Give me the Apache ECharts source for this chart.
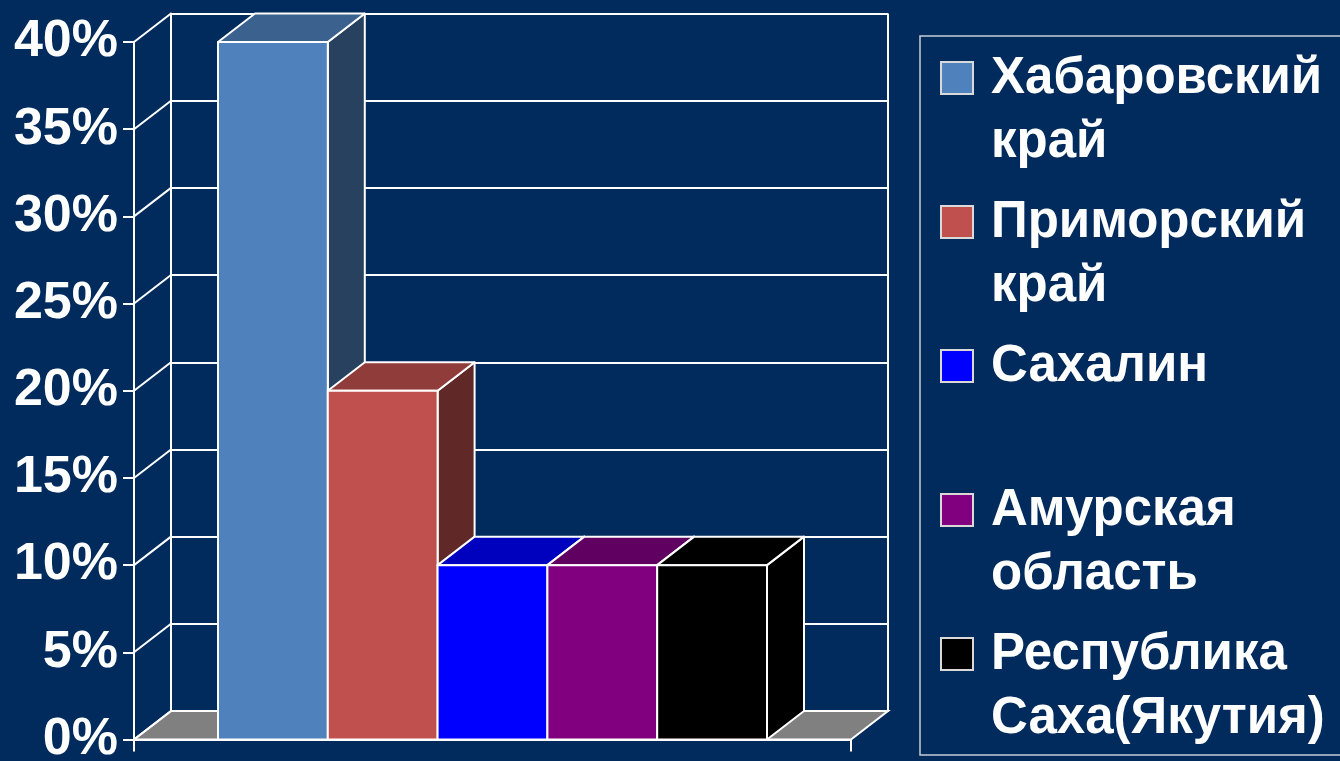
<!DOCTYPE html>
<html><head><meta charset="utf-8">
<script src="https://cdn.jsdelivr.net/npm/echarts@6/dist/echarts.min.js"></script>
<style>html,body{margin:0;padding:0;background:#002b5c;overflow:hidden}#c{width:1340px;height:761px}</style>
</head><body><div id="c"></div>
<script>
// ---- data ----
const categories = [''];
const regions = ['Хабаровский край', 'Приморский край', 'Сахалин', 'Амурская область', 'Республика Саха(Якутия)'];
const shares = [40, 20, 10, 10, 10];
const regionColors = ['#4f81bd', '#c0504d', '#0000ff', '#800080', '#000000'];
const yTicks = [0, 5, 10, 15, 20, 25, 30, 35, 40];

// ---- layout / style constants ----
const BG = '#002b5c';
const LINE = '#ffffff';
const DX = 37, DY = 28.5;          // depth offset of the 3D box
const GROUP_RATIO = 0.7657;        // share of the category band used by the bars
const FONT = "'Liberation Sans', Arial, sans-serif";

function shade(hex, f) {
  const n = parseInt(hex.slice(1), 16);
  const r = Math.round(((n >> 16) & 255) * f), g = Math.round(((n >> 8) & 255) * f), b = Math.round((n & 255) * f);
  return 'rgb(' + r + ',' + g + ',' + b + ')';
}

const chart = echarts.init(document.getElementById('c'), null, {renderer: 'canvas'});

function bandInfo(api, v) {
  const base = api.coord([api.value(0), 0]);
  const band = api.size([1, 0])[0];
  return {cx: base[0], y0: base[1], band: band, y: api.coord([api.value(0), v])[1]};
}

const barSeries = regions.map(function (name, idx) {
  return {
    type: 'custom', name: name, xAxisIndex: 0, yAxisIndex: 0,
    itemStyle: {color: regionColors[idx]},
    data: [[0, shares[idx]]],
    renderItem: function (params, api) {
      const b = bandInfo(api, api.value(1));
      const gw = b.band * GROUP_RATIO, bw = gw / regions.length;
      const x0 = b.cx - gw / 2 + idx * bw, x1 = x0 + bw;
      const yT = b.y, yB = b.y0;
      const c = regionColors[idx];
      const st = {stroke: LINE, lineWidth: 2, lineJoin: 'round'};
      return {type: 'group', children: [
        {type: 'polygon', shape: {points: [[x1, yT], [x1 + DX, yT - DY], [x1 + DX, yB - DY], [x1, yB]]},
          style: Object.assign({fill: shade(c, 0.5)}, st)},
        {type: 'polygon', shape: {points: [[x0, yT], [x1, yT], [x1 + DX, yT - DY], [x0 + DX, yT - DY]]},
          style: Object.assign({fill: shade(c, 0.75)}, st)},
        {type: 'rect', shape: {x: x0, y: yT, width: bw, height: yB - yT},
          style: Object.assign({fill: c}, st)}
      ]};
    }
  };
});

const floorSeries = {
  type: 'custom', name: 'floor', xAxisIndex: 0, yAxisIndex: 0, silent: true,
  data: [[0, 0]],
  renderItem: function (params, api) {
    const b = bandInfo(api, 0);
    const xl = b.cx - b.band / 2, xr = b.cx + b.band / 2, y = b.y0;
    return {type: 'polygon', shape: {points: [[xl, y], [xr, y], [xr + DX, y - DY], [xl + DX, y - DY]]},
      style: {fill: '#808080', stroke: LINE, lineWidth: 2}};
  }
};

const sideWallSeries = {
  type: 'custom', name: 'wall', xAxisIndex: 0, yAxisIndex: 0, silent: true,
  data: yTicks.map(function (v) { return [0, v]; }),
  renderItem: function (params, api) {
    const b = bandInfo(api, api.value(1));
    const xl = b.cx - b.band / 2;
    return {type: 'line', shape: {x1: xl, y1: b.y, x2: xl + DX, y2: b.y - DY},
      style: {stroke: LINE, lineWidth: 2}};
  }
};

const lineStyle = {color: LINE, width: 2};

chart.setOption({
  animation: false,
  backgroundColor: BG,
  textStyle: {fontFamily: FONT},
  grid: [
    {left: 134, right: 489, top: 42, bottom: 21.5, containLabel: false, outerBoundsMode: 'none'},
    {left: 134 + DX, right: 489 - DX, top: 42 - DY, bottom: 21.5 + DY, containLabel: false, outerBoundsMode: 'none'}
  ],
  xAxis: [
    {type: 'category', gridIndex: 0, data: categories,
      axisLine: {show: true, lineStyle: lineStyle},
      axisTick: {show: true, length: 12, lineStyle: lineStyle},
      axisLabel: {show: false}, splitLine: {show: false}},
    {type: 'category', gridIndex: 1, data: categories,
      axisLine: {show: true, lineStyle: lineStyle},
      axisTick: {show: false}, axisLabel: {show: false},
      splitLine: {show: true, lineStyle: lineStyle}}
  ],
  yAxis: [
    {type: 'value', gridIndex: 0, min: 0, max: 40, interval: 5,
      axisLine: {show: true, lineStyle: lineStyle},
      axisTick: {show: true, length: 11, lineStyle: lineStyle},
      axisLabel: {formatter: '{value}%', color: '#ffffff', fontSize: 52, fontWeight: 'bold', fontFamily: FONT, margin: 16},
      splitLine: {show: false}},
    {type: 'value', gridIndex: 1, min: 0, max: 40, interval: 5,
      axisLine: {show: true, lineStyle: lineStyle},
      axisTick: {show: false}, axisLabel: {show: false},
      splitLine: {show: true, lineStyle: lineStyle}}
  ],
  legend: {
    data: regions, orient: 'vertical', left: 920, top: 36,
    padding: [10, 40, 3, 20], itemGap: 14,
    itemWidth: 32, itemHeight: 128,
    icon: 'path://M0,0L0.01,0M0,15H32V47H0ZM0,128L0.01,128',
    itemStyle: {borderColor: '#d9d9d9', borderWidth: 2},
    borderColor: '#c8cdd6', borderWidth: 1.5,
    selectedMode: false,
    formatter: function (name) { return name.indexOf(' ') > -1 ? name.replace(' ', '\n') : name + '\n '; },
    textStyle: {color: '#ffffff', fontSize: 51, fontWeight: 'bold', fontFamily: FONT, lineHeight: 64, padding: [0, 0, 0, 13]}
  },
  series: [floorSeries, sideWallSeries].concat(barSeries)
});
</script>
</body></html>
